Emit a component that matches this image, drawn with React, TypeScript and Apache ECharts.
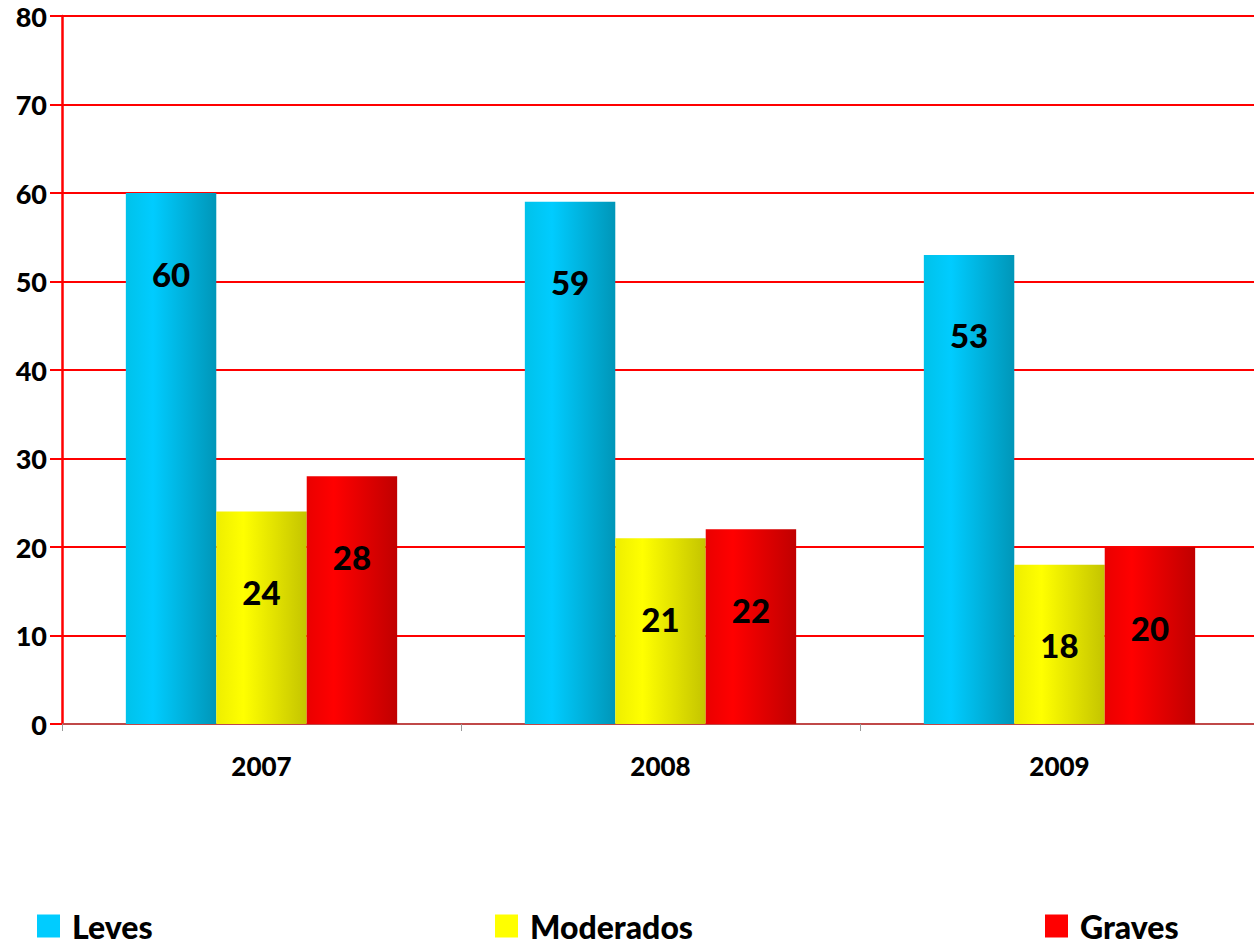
import React, { useEffect, useRef } from "react";
import * as echarts from "echarts";

const categories = ["2007", "2008", "2009"];
const seriesNames = ["Leves", "Moderados", "Graves"];
const leves = [60, 59, 53];
const moderados = [24, 21, 18];
const graves = [28, 22, 20];
const yTicks = { min: 0, max: 80, interval: 10 };

const FONT = "Lato";

function grad(c0: string, c1: string, c2: string) {
  return new echarts.graphic.LinearGradient(0, 0, 1, 0, [
    { offset: 0, color: c0 },
    { offset: 0.3, color: c1 },
    { offset: 1, color: c2 },
  ]);
}

export default function App() {
  const ref = useRef<HTMLDivElement>(null);
  useEffect(() => {
    if (!ref.current) return;
    const chart = echarts.init(ref.current, undefined, { renderer: "svg" });
    const colors = [
      grad("#00c2ea", "#00ccff", "#0096b8"),
      grad("#eeee00", "#ffff00", "#c4c400"),
      grad("#ea0000", "#ff0000", "#c00000"),
    ];
    const solid = ["#00ccff", "#ffff00", "#ff0000"];
    const datas = [leves, moderados, graves];
    const label = {
      show: true,
      position: "insideTop",
      distance: 64,
      fontFamily: FONT,
      fontWeight: 900,
      fontSize: 33,
      color: "#000",
    };
    const legendCommon = {
      top: 910,
      padding: 0,
      itemWidth: 23,
      itemHeight: 23,
      itemGap: 12,
      icon: "rect",
      textStyle: { fontFamily: FONT, fontWeight: 900, fontSize: 32, color: "#000", padding: [0, 0, 0, 7] },
    };
    chart.setOption({
      animation: false,
      color: solid,
      grid: { left: 62, right: 0, top: 16, bottom: 227, containLabel: false },
      legend: seriesNames.map((n, i) => ({
        ...legendCommon,
        left: [37, 495, 1045][i],
        data: [{ name: n, itemStyle: { color: solid[i] } }],
      })),
      xAxis: {
        type: "category",
        data: categories,
        axisLine: { lineStyle: { color: "#c04848", width: 2 } },
        axisTick: { show: true, length: 7, lineStyle: { color: "#999999", width: 1 } },
        axisLabel: { margin: 29, fontFamily: FONT, fontWeight: 900, fontSize: 26, color: "#000" },
      },
      yAxis: {
        type: "value",
        min: yTicks.min,
        max: yTicks.max,
        interval: yTicks.interval,
        axisLine: { show: true, lineStyle: { color: "#ff0000", width: 2.5 } },
        axisTick: { show: true, length: 12, lineStyle: { color: "#ff0000", width: 2 } },
        axisLabel: { margin: 15, fontFamily: FONT, fontWeight: 900, fontSize: 27, color: "#000" },
        splitLine: { show: true, lineStyle: { color: "#ff0000", width: 2 } },
      },
      series: datas.map((d, i) => ({
        name: seriesNames[i],
        type: "bar",
        data: d,
        barGap: "0%",
        barCategoryGap: "32%",
        itemStyle: { color: colors[i] },
        label,
        z: 3,
      })),
    });
    return () => chart.dispose();
  }, []);
  return (
    <div
      style={{ position: "absolute", left: 0, top: 0, width: 1254, height: 951, overflow: "hidden", background: "#fff" }}
    >
      <div ref={ref} style={{ position: "absolute", left: 0, top: 0, width: 1259, height: 951 }} />
    </div>
  );
}
